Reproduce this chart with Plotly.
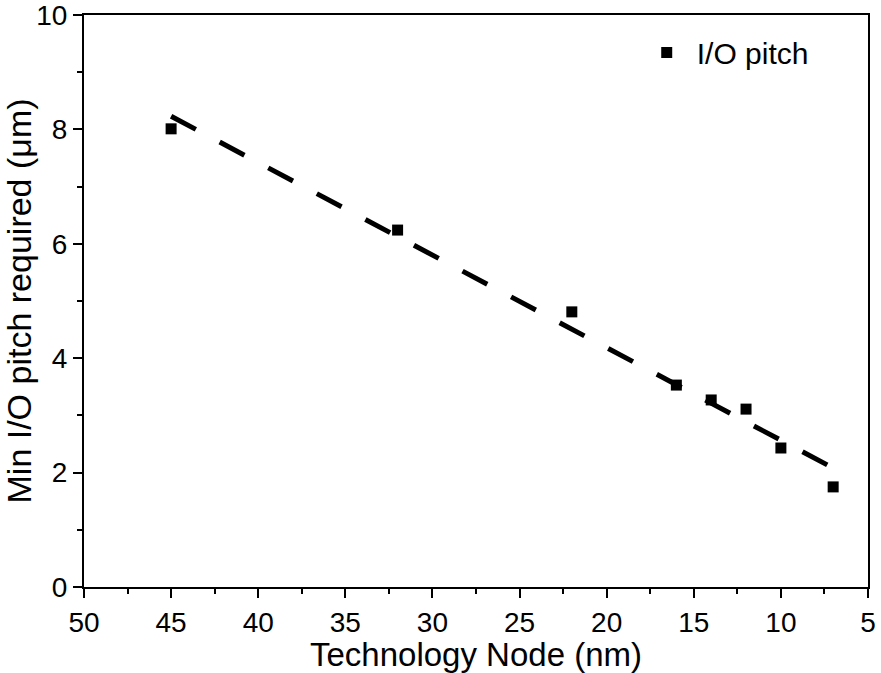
import plotly.graph_objects as go

node_nm = [45, 32, 22, 16, 14, 12, 10, 7]
io_pitch_um = [8.01, 6.24, 4.81, 3.53, 3.27, 3.11, 2.43, 1.75]
fit_x = [45, 7]
fit_y = [8.23, 2.08]

fig = go.Figure()
fig.add_trace(go.Scatter(x=fit_x, y=fit_y, mode="lines", showlegend=False,
                         line=dict(color="black", width=5, dash="28px,27px")))
fig.add_trace(go.Scatter(x=node_nm, y=io_pitch_um, mode="markers", name="I/O pitch",
                         marker=dict(symbol="square", size=11, color="black")))

font = "Liberation Sans, Arial, sans-serif"
fig.update_layout(
    width=881, height=673,
    margin=dict(l=84, r=13, t=15, b=86),
    paper_bgcolor="white", plot_bgcolor="white",
    font=dict(family=font, color="black", size=28),
    legend=dict(x=0.705, y=0.98, xanchor="left", yanchor="top",
                font=dict(size=30), bgcolor="rgba(0,0,0,0)", itemwidth=50),
    xaxis=dict(range=[50, 5], dtick=5, tick0=5, showgrid=False, zeroline=False,
               automargin=False, ticklabeloverflow="allow",
               showline=True, linecolor="black", linewidth=2, mirror=True,
               ticks="outside", ticklen=9, tickwidth=2, tickcolor="black",
               minor=dict(ticks="outside", ticklen=5, tickwidth=2, tickcolor="black", dtick=2.5, tick0=5),
               tickfont=dict(size=28),
               title=dict(text="Technology Node (nm)", font=dict(size=33), standoff=6)),
    yaxis=dict(range=[0, 10], dtick=2, showgrid=False, zeroline=False,
               automargin=False, ticklabeloverflow="allow",
               showline=True, linecolor="black", linewidth=2, mirror=True,
               ticks="outside", ticklen=9, tickwidth=2, tickcolor="black",
               minor=dict(ticks="outside", ticklen=5, tickwidth=2, tickcolor="black", dtick=1),
               tickfont=dict(size=28),
               title=dict(text="Min I/O pitch required (μm)", font=dict(size=34), standoff=6)),
)
fig.write_html("out.html")
